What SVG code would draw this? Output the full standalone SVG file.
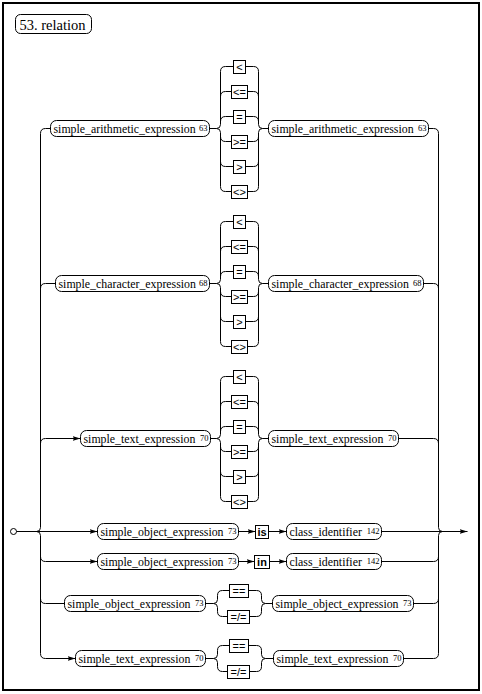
<svg xmlns="http://www.w3.org/2000/svg" width="482" height="694" viewBox="0 0 482 694">
<defs>
<style>
.ln{fill:none;stroke:#000;stroke-width:1}
.ar{fill:none;stroke:#000;stroke-width:1;marker-end:url(#ah)}
.nd rect{fill:#fff;stroke:#000;stroke-width:1}
.t{font-family:"Liberation Serif","Times New Roman",serif;font-size:11.85px;fill:#000}
.s{font-family:"Liberation Serif","Times New Roman",serif;font-size:8.5px;fill:#000;text-anchor:end}
.o{font-family:"Liberation Sans",Arial,sans-serif;font-size:11px;fill:#000;text-anchor:middle}
.k{font-family:"Liberation Sans",Arial,sans-serif;font-size:11px;font-weight:bold;fill:#000;text-anchor:middle}
.ttl{font-family:"Liberation Serif","Times New Roman",serif;font-size:14.5px;fill:#000}
</style>
<marker id="ah" viewBox="0 0 8 6" refX="8" refY="3" markerWidth="8" markerHeight="6" markerUnits="userSpaceOnUse" orient="auto">
<path d="M0,0.5 L8,3 L0,5.5 L1.5,3 Z" fill="#000"/>
</marker>
</defs>
<rect x="3" y="3" width="476" height="687" fill="#fff" stroke="#000" stroke-width="2"/>
<g transform="translate(0.5 0.5)">
<g id="title" class="nd"><rect x="15" y="14" width="76" height="19" rx="5"/><text class="ttl" x="19" y="29">53. relation</text></g>

<g id="connectors">
<path class="ln" d="M45,128 Q40,128 40,133 L40,527 Q40,531 36,531 Q40,531 40,535 L40,653 Q40,658 45,658"/>
<path class="ln" d="M40,288 Q40,283 45,283 L55,283"/>
<path class="ln" d="M40,443 Q40,438 45,438"/>
<path class="ln" d="M40,556 Q40,561 45,561"/>
<path class="ln" d="M40,598 Q40,603 45,603 L64,603"/>
<path class="ln" d="M45,128 L50,128"/>
<path class="ln" d="M428,128 L433,128 Q438,128 438,133 L438,527 Q438,531 442,531 Q438,531 438,535 L438,653 Q438,658 433,658 L403,658"/>
<path class="ln" d="M423,283 L433,283 Q438,283 438,288"/>
<path class="ln" d="M398,438 L433,438 Q438,438 438,443"/>
<path class="ln" d="M381,561 L433,561 Q438,561 438,556"/>
<path class="ln" d="M413,603 L433,603 Q438,603 438,598"/>
<path class="ar" d="M45,438 L80,438"/>
<path class="ar" d="M45,658 L75,658"/>
<circle cx="13" cy="531" r="3" fill="#fff" stroke="#000"/>
<path class="ar" d="M16,531 L97,531"/>
<path class="ar" d="M238,531 L255,531"/>
<path class="ar" d="M268,531 L286,531"/>
<path class="ar" d="M381,531 L467,531"/>
<path class="ar" d="M45,561 L97,561"/>
<path class="ar" d="M238,561 L254,561"/>
<path class="ar" d="M269,561 L286,561"/>
<g id="col1">
<path class="ln" d="M209,128 L216,128 M262,128 L268,128"/>
<path class="ln" d="M225,66 Q220,66 220,71 L220,124 Q220,128 216,128 Q220,128 220,132 L220,186 Q220,191 225,191"/>
<path class="ln" d="M220,96 Q220,91 225,91 M220,121 Q220,116 225,116 M220,136 Q220,141 225,141 M220,161 Q220,166 225,166"/>
<path class="ln" d="M253,66 Q258,66 258,71 L258,124 Q258,128 262,128 Q258,128 258,132 L258,186 Q258,191 253,191"/>
<path class="ln" d="M253,91 Q258,91 258,96 M253,116 Q258,116 258,121 M253,141 Q258,141 258,136 M253,166 Q258,166 258,161"/>
<path class="ln" d="M225,66 L233,66 M245,66 L253,66 M225,91 L231,91 M247,91 L253,91 M225,116 L233,116 M245,116 L253,116 M225,141 L231,141 M247,141 L253,141 M225,166 L233,166 M245,166 L253,166 M225,191 L231,191 M247,191 L253,191"/>
</g>
<g id="col2" transform="translate(0 155)">
<path class="ln" d="M209,128 L216,128 M262,128 L268,128"/>
<path class="ln" d="M225,66 Q220,66 220,71 L220,124 Q220,128 216,128 Q220,128 220,132 L220,186 Q220,191 225,191"/>
<path class="ln" d="M220,96 Q220,91 225,91 M220,121 Q220,116 225,116 M220,136 Q220,141 225,141 M220,161 Q220,166 225,166"/>
<path class="ln" d="M253,66 Q258,66 258,71 L258,124 Q258,128 262,128 Q258,128 258,132 L258,186 Q258,191 253,191"/>
<path class="ln" d="M253,91 Q258,91 258,96 M253,116 Q258,116 258,121 M253,141 Q258,141 258,136 M253,166 Q258,166 258,161"/>
<path class="ln" d="M225,66 L233,66 M245,66 L253,66 M225,91 L231,91 M247,91 L253,91 M225,116 L233,116 M245,116 L253,116 M225,141 L231,141 M247,141 L253,141 M225,166 L233,166 M245,166 L253,166 M225,191 L231,191 M247,191 L253,191"/>
</g>
<g id="col3" transform="translate(0 310)">
<path class="ln" d="M210,128 L216,128 M262,128 L268,128"/>
<path class="ln" d="M225,66 Q220,66 220,71 L220,124 Q220,128 216,128 Q220,128 220,132 L220,186 Q220,191 225,191"/>
<path class="ln" d="M220,96 Q220,91 225,91 M220,121 Q220,116 225,116 M220,136 Q220,141 225,141 M220,161 Q220,166 225,166"/>
<path class="ln" d="M253,66 Q258,66 258,71 L258,124 Q258,128 262,128 Q258,128 258,132 L258,186 Q258,191 253,191"/>
<path class="ln" d="M253,91 Q258,91 258,96 M253,116 Q258,116 258,121 M253,141 Q258,141 258,136 M253,166 Q258,166 258,161"/>
<path class="ln" d="M225,66 L233,66 M245,66 L253,66 M225,91 L231,91 M247,91 L253,91 M225,116 L233,116 M245,116 L253,116 M225,141 L231,141 M247,141 L253,141 M225,166 L233,166 M245,166 L253,166 M225,191 L231,191 M247,191 L253,191"/>
</g>
<path class="ln" d="M205,603 L213,603 M222,590 Q217,590 217,595 L217,599 Q217,603 213,603 Q217,603 217,607 L217,611 Q217,616 222,616 M222,590 L229,590 M222,616 L227,616"/>
<path class="ln" d="M248,590 L256,590 Q261,590 261,595 L261,599 Q261,603 265,603 Q261,603 261,607 L261,611 Q261,616 256,616 L249,616 M265,603 L272,603"/>
<path class="ln" d="M205,658 L213,658 M222,645 Q217,645 217,650 L217,654 Q217,658 213,658 Q217,658 217,662 L217,666 Q217,671 222,671 M222,645 L229,645 M222,671 L227,671"/>
<path class="ln" d="M248,645 L256,645 Q261,645 261,650 L261,654 Q261,658 265,658 Q261,658 261,662 L261,666 Q261,671 256,671 L249,671 M265,658 L273,658"/>
</g>

<g id="n1l" class="nd"><rect x="50" y="120" width="159" height="16" rx="6"/><text class="t" x="53" y="132">simple_arithmetic_expression</text><text class="s" x="207" y="130">63</text></g>
<g id="n1r" class="nd"><rect x="268" y="120" width="160" height="16" rx="6"/><text class="t" x="271" y="132">simple_arithmetic_expression</text><text class="s" x="426" y="130">63</text></g>
<g id="ops1" class="nd">
<g id="op1a"><rect x="233" y="60" width="12" height="13"/><text class="o" x="239" y="70">&lt;</text></g>
<g id="op1b"><rect x="231" y="85" width="16" height="13"/><text class="o" x="239" y="95">&lt;=</text></g>
<g id="op1c"><rect x="233" y="110" width="12" height="13"/><text class="o" x="239" y="120">=</text></g>
<g id="op1d"><rect x="231" y="135" width="16" height="13"/><text class="o" x="239" y="145">&gt;=</text></g>
<g id="op1e"><rect x="233" y="160" width="12" height="13"/><text class="o" x="239" y="170">&gt;</text></g>
<g id="op1f"><rect x="231" y="185" width="16" height="13"/><text class="o" x="239" y="195">&lt;&gt;</text></g>
</g>
<g id="n2l" class="nd"><rect x="55" y="275" width="154" height="16" rx="6"/><text class="t" x="58" y="287">simple_character_expression</text><text class="s" x="207" y="285">68</text></g>
<g id="n2r" class="nd"><rect x="268" y="275" width="155" height="16" rx="6"/><text class="t" x="271" y="287">simple_character_expression</text><text class="s" x="421" y="285">68</text></g>
<g id="ops2" class="nd">
<g id="op2a"><rect x="233" y="215" width="12" height="13"/><text class="o" x="239" y="225">&lt;</text></g>
<g id="op2b"><rect x="231" y="240" width="16" height="13"/><text class="o" x="239" y="250">&lt;=</text></g>
<g id="op2c"><rect x="233" y="265" width="12" height="13"/><text class="o" x="239" y="275">=</text></g>
<g id="op2d"><rect x="231" y="290" width="16" height="13"/><text class="o" x="239" y="300">&gt;=</text></g>
<g id="op2e"><rect x="233" y="315" width="12" height="13"/><text class="o" x="239" y="325">&gt;</text></g>
<g id="op2f"><rect x="231" y="340" width="16" height="13"/><text class="o" x="239" y="350">&lt;&gt;</text></g>
</g>
<g id="n3l" class="nd"><rect x="80" y="430" width="130" height="16" rx="6"/><text class="t" x="83" y="442">simple_text_expression</text><text class="s" x="208" y="440">70</text></g>
<g id="n3r" class="nd"><rect x="268" y="430" width="130" height="16" rx="6"/><text class="t" x="271" y="442">simple_text_expression</text><text class="s" x="396" y="440">70</text></g>
<g id="ops3" class="nd">
<g id="op3a"><rect x="233" y="370" width="12" height="13"/><text class="o" x="239" y="380">&lt;</text></g>
<g id="op3b"><rect x="231" y="395" width="16" height="13"/><text class="o" x="239" y="405">&lt;=</text></g>
<g id="op3c"><rect x="233" y="420" width="12" height="13"/><text class="o" x="239" y="430">=</text></g>
<g id="op3d"><rect x="231" y="445" width="16" height="13"/><text class="o" x="239" y="455">&gt;=</text></g>
<g id="op3e"><rect x="233" y="470" width="12" height="13"/><text class="o" x="239" y="480">&gt;</text></g>
<g id="op3f"><rect x="231" y="495" width="16" height="13"/><text class="o" x="239" y="505">&lt;&gt;</text></g>
</g>
<g id="n4a" class="nd"><rect x="97" y="523" width="141" height="16" rx="6"/><text class="t" x="100" y="535">simple_object_expression</text><text class="s" x="236" y="533">73</text></g>
<g id="n4is" class="nd"><rect x="255" y="525" width="13" height="13"/><text class="k" x="261.5" y="535">is</text></g>
<g id="n4c" class="nd"><rect x="286" y="523" width="95" height="16" rx="6"/><text class="t" x="289" y="535">class_identifier</text><text class="s" x="379" y="533">142</text></g>
<g id="n5a" class="nd"><rect x="97" y="553" width="141" height="16" rx="6"/><text class="t" x="100" y="565">simple_object_expression</text><text class="s" x="236" y="563">73</text></g>
<g id="n5in" class="nd"><rect x="254" y="555" width="15" height="13"/><text class="k" x="261.5" y="565">in</text></g>
<g id="n5c" class="nd"><rect x="286" y="553" width="95" height="16" rx="6"/><text class="t" x="289" y="565">class_identifier</text><text class="s" x="379" y="563">142</text></g>
<g id="n6a" class="nd"><rect x="64" y="595" width="141" height="16" rx="6"/><text class="t" x="67" y="607">simple_object_expression</text><text class="s" x="203" y="605">73</text></g>
<g id="op6a" class="nd"><rect x="229" y="584" width="19" height="13"/><text class="o" x="238.5" y="594">==</text></g>
<g id="op6b" class="nd"><rect x="227" y="610" width="22" height="13"/><text class="o" x="238" y="620">=/=</text></g>
<g id="n6b" class="nd"><rect x="272" y="595" width="141" height="16" rx="6"/><text class="t" x="275" y="607">simple_object_expression</text><text class="s" x="411" y="605">73</text></g>
<g id="n7a" class="nd"><rect x="75" y="650" width="130" height="16" rx="6"/><text class="t" x="78" y="662">simple_text_expression</text><text class="s" x="203" y="660">70</text></g>
<g id="op7a" class="nd"><rect x="229" y="639" width="19" height="13"/><text class="o" x="238.5" y="649">==</text></g>
<g id="op7b" class="nd"><rect x="227" y="665" width="22" height="13"/><text class="o" x="238" y="675">=/=</text></g>
<g id="n7b" class="nd"><rect x="273" y="650" width="130" height="16" rx="6"/><text class="t" x="276" y="662">simple_text_expression</text><text class="s" x="401" y="660">70</text></g>
</g>
</svg>
